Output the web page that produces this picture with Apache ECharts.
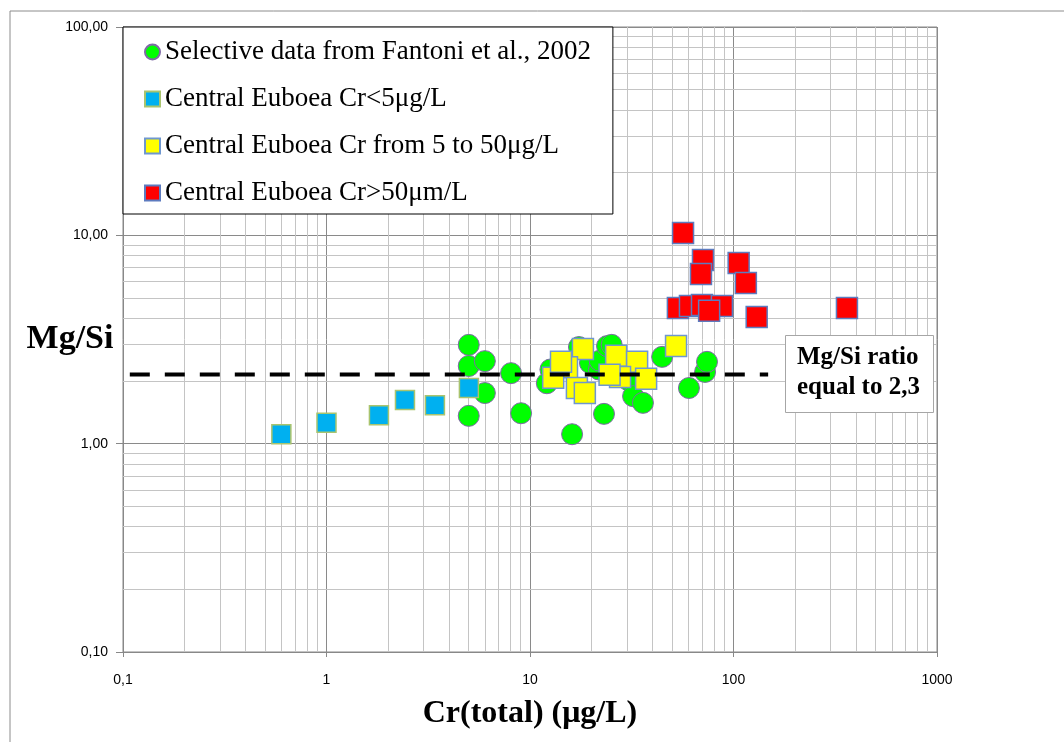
<!DOCTYPE html>
<html>
<head>
<meta charset="utf-8">
<script src="https://cdn.jsdelivr.net/npm/echarts@6/dist/echarts.min.js"></script>
<style>
  html, body { margin: 0; padding: 0; background: #fff; }
  #chart { width: 1064px; height: 742px; }
</style>
</head>
<body>
<div id="chart"></div>
<script>
// data: [Cr total (µg/L), Mg/Si]
const fantoni = [
  [5.0, 2.98], [5.0, 2.36], [6.0, 2.49], [6.0, 1.75], [5.0, 1.36],
  [8.07, 2.18], [9.04, 1.40], [12.1, 1.95], [12.6, 2.27], [16.1, 1.11],
  [17.4, 2.91], [19.7, 2.44], [21.8, 2.27], [22.0, 2.5], [23.1, 1.39],
  [23.9, 2.94], [25.2, 2.98], [30.3, 2.02], [32.1, 1.69], [35.9, 1.57],
  [44.6, 2.61], [60.4, 1.85], [72.5, 2.21], [74.1, 2.47]
];
const crLow = [[0.60, 1.11], [1.0, 1.26], [1.81, 1.37], [2.43, 1.62], [3.41, 1.53], [5.01, 1.85]];
const crMid = [
  [18.2, 2.85], [15.2, 2.33], [13.0, 2.07], [14.2, 2.47], [17.0, 1.85],
  [18.6, 1.75], [26.5, 2.64], [33.6, 2.47], [27.7, 2.09], [24.6, 2.14],
  [37.2, 2.05], [52.2, 2.94]
];
const crHigh = [
  [56.5, 10.27], [70.8, 7.62], [69.2, 6.53], [106, 7.37], [115, 5.91],
  [53.3, 4.48], [61.1, 4.58], [70.0, 4.63], [87.7, 4.58], [75.9, 4.34],
  [130, 4.06], [361, 4.48]
];
const ratioLine = [[0.108, 2.15], [148, 2.15]];

const seriesNames = [
  'Selective data from Fantoni et al., 2002',
  'Central Euboea Cr<5μg/L',
  'Central Euboea Cr from 5 to 50μg/L',
  'Central Euboea Cr>50μm/L'
];

// minor grid positions (log axes)
const minorX = [0.2, 0.3, 0.4, 0.5, 0.6, 0.7, 0.8, 0.9, 2, 3, 4, 5, 6, 7, 8, 9,
  20, 30, 40, 50, 60, 70, 80, 90, 200, 300, 400, 500, 600, 700, 800, 900];
const minorY = [0.2, 0.3, 0.4, 0.5, 0.6, 0.7, 0.8, 0.9, 2, 3, 4, 5, 6, 7, 8, 9,
  20, 30, 40, 50, 60, 70, 80, 90];

const chart = echarts.init(document.getElementById('chart'));

const option = {
  animation: false,
  graphic: [
    {
      type: 'rect', z: 0, silent: true,
      shape: { x: 10, y: 11, width: 1200, height: 900 },
      style: { fill: 'none', stroke: '#8c8c8c', lineWidth: 1 }
    }
  ],
  title: {
    text: 'Mg/Si ratio\nequal to 2,3',
    left: 785,
    top: 335,
    padding: [8, 14, 10, 12],
    backgroundColor: '#fff',
    borderColor: '#a6a6a6',
    borderWidth: 1,
    textStyle: {
      fontFamily: 'Liberation Serif',
      fontSize: 25,
      fontWeight: 'bold',
      lineHeight: 30,
      color: '#000'
    }
  },
  legend: {
    orient: 'vertical',
    left: 123,
    top: 27,
    z: 10,
    padding: [10, 22, 6, 21],
    backgroundColor: '#fff',
    borderColor: '#000',
    borderWidth: 1,
    itemWidth: 15,
    itemHeight: 15,
    itemGap: 17,
    data: seriesNames,
    textStyle: {
      fontFamily: 'Liberation Serif',
      fontSize: 27,
      lineHeight: 30,
      color: '#000'
    }
  },
  grid: {
    left: 123,
    top: 27,
    width: 814,
    height: 625,
    containLabel: false,
    outerBoundsMode: 'none',
    show: true,
    borderColor: '#888',
    borderWidth: 1,
    backgroundColor: '#fff'
  },
  xAxis: {
    type: 'log',
    logBase: 10,
    min: 0.1,
    max: 1000,
    name: 'Cr(total) (μg/L)',
    nameLocation: 'middle',
    nameGap: 62,
    nameMoveOverlap: false,
    nameTextStyle: {
      fontFamily: 'Liberation Serif',
      fontSize: 32,
      fontWeight: 'bold',
      color: '#000',
      verticalAlign: 'middle'
    },
    axisLine: { show: true, lineStyle: { color: '#888' } },
    axisTick: { show: true, length: 5, lineStyle: { color: '#888' } },
    axisLabel: {
      margin: 21,
      fontFamily: 'Liberation Sans',
      fontSize: 14,
      color: '#000',
      formatter: v => (v < 1 ? v.toFixed(1) : String(Math.round(v))).replace('.', ',')
    },
    splitLine: { show: true, lineStyle: { color: '#8a8a8a', width: 1 } }
  },
  yAxis: {
    type: 'log',
    logBase: 10,
    min: 0.1,
    max: 100,
    name: 'Mg/Si',
    nameLocation: 'middle',
    nameRotate: 0,
    nameGap: 53,
    nameMoveOverlap: false,
    nameTextStyle: {
      fontFamily: 'Liberation Serif',
      fontSize: 34,
      fontWeight: 'bold',
      color: '#000',
      align: 'center',
      verticalAlign: 'middle'
    },
    axisLine: { show: true, lineStyle: { color: '#888' } },
    axisTick: { show: true, length: 7, lineStyle: { color: '#888' } },
    axisLabel: {
      margin: 15,
      fontFamily: 'Liberation Sans',
      fontSize: 14,
      color: '#000',
      formatter: v => v.toFixed(2).replace('.', ',')
    },
    splitLine: { show: true, lineStyle: { color: '#8a8a8a', width: 1 } }
  },
  series: [
    {
      name: 'minor grid',
      type: 'line',
      data: [],
      z: 1,
      silent: true,
      markLine: {
        z: 1,
        silent: true,
        symbol: ['none', 'none'],
        label: { show: false },
        lineStyle: { color: '#c4c4c4', width: 1, type: 'solid' },
        emphasis: { disabled: true },
        data: minorX.map(v => ({ xAxis: v })).concat(minorY.map(v => ({ yAxis: v })))
      }
    },
    {
      name: seriesNames[0],
      type: 'scatter',
      symbol: 'circle',
      symbolSize: 21,
      z: 2,
      data: fantoni,
      itemStyle: { color: '#00ff00', borderColor: '#7f6aa6', borderWidth: 1, opacity: 1 }
    },
    {
      name: seriesNames[1],
      type: 'scatter',
      symbol: 'rect',
      symbolSize: 19,
      z: 2,
      data: crLow,
      itemStyle: { color: '#00b0f0', borderColor: '#a9c46e', borderWidth: 1.5, opacity: 1 }
    },
    {
      name: seriesNames[2],
      type: 'scatter',
      symbol: 'rect',
      symbolSize: 21,
      z: 2,
      data: crMid,
      itemStyle: { color: '#ffff00', borderColor: '#6f97cf', borderWidth: 1.5, opacity: 1 }
    },
    {
      name: seriesNames[3],
      type: 'scatter',
      symbol: 'rect',
      symbolSize: 21,
      z: 2,
      data: crHigh,
      itemStyle: { color: '#ff0000', borderColor: '#5d7bbf', borderWidth: 1.5, opacity: 1 }
    },
    {
      name: 'Mg/Si = 2,3',
      type: 'line',
      z: 5,
      silent: true,
      symbol: 'none',
      data: ratioLine,
      lineStyle: { color: '#000', width: 4, type: [20, 15] }
    }
  ]
};

chart.setOption(option);
</script>
</body>
</html>
